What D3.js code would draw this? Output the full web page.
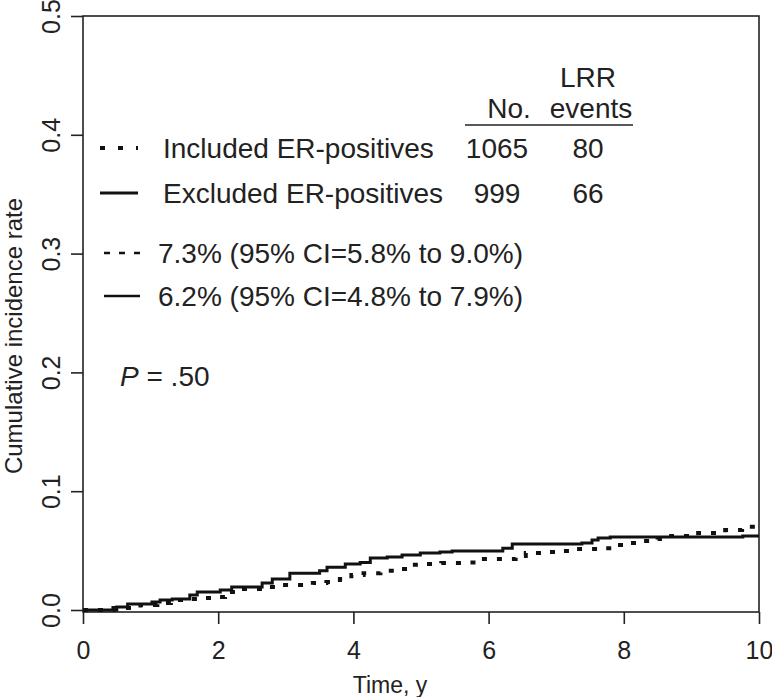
<!doctype html>
<html lang="en">
<head>
    <meta charset="UTF-8">
    <title>Cumulative incidence</title>
    <script src="https://cdn.jsdelivr.net/npm/d3@7"></script>
    <style>
        body { margin: 0; background: #fff; }
        text { font-family: "Liberation Sans", Arial, sans-serif; fill: #222; }
    </style>
</head>
<body>
    <svg width="772" height="697"></svg>
    <script>
        // step times (years) and cumulative incidence for each group
        var includedTimes = [0, 0.45, 0.85, 1.1, 1.3, 1.5, 1.75, 1.95, 2.1, 2.3, 2.7, 2.9, 3.4, 3.6, 3.8, 3.97, 4.15, 4.4, 4.6, 4.85, 5.05, 5.3, 5.7, 5.9, 6.4, 6.55, 6.8, 7.0, 7.25, 7.65, 7.85, 8.05, 8.3, 8.5, 8.7, 9.1, 9.5, 9.75, 9.95, 10];
        var includedRate = [0, 0.0017, 0.0042, 0.0059, 0.0084, 0.0093, 0.0101, 0.0109, 0.0152, 0.0177, 0.0194, 0.021, 0.0227, 0.0236, 0.026, 0.0295, 0.031, 0.033, 0.0345, 0.038, 0.0387, 0.0396, 0.040, 0.043, 0.0455, 0.048, 0.0488, 0.0497, 0.0513, 0.052, 0.0547, 0.0564, 0.058, 0.0598, 0.0623, 0.0648, 0.0673, 0.070, 0.0732, 0.0732];
        var excludedTimes = [0, 0.5, 0.66, 1.02, 1.14, 1.32, 1.58, 1.69, 2.03, 2.2, 2.65, 2.8, 3.06, 3.5, 3.61, 3.88, 4.1, 4.25, 4.5, 4.72, 4.99, 5.28, 5.46, 6.21, 6.35, 7.38, 7.53, 7.62, 7.8, 9.76, 10];
        var excludedRate = [0, 0.0025, 0.005, 0.0067, 0.0084, 0.0093, 0.0126, 0.0152, 0.0168, 0.0194, 0.0227, 0.026, 0.031, 0.033, 0.036, 0.0387, 0.040, 0.0438, 0.0446, 0.0463, 0.048, 0.0488, 0.0497, 0.052, 0.0555, 0.0564, 0.059, 0.0606, 0.0614, 0.0623, 0.0623];

        var xTicks = [0, 2, 4, 6, 8, 10];
        var yTicks = [0.0, 0.1, 0.2, 0.3, 0.4, 0.5];

        var groupNames = ["Included ER-positives", "Excluded ER-positives"];
        var groupN = ["1065", "999"];
        var groupEvents = ["80", "66"];
        var ciLabels = ["7.3% (95% CI=5.8% to 9.0%)", "6.2% (95% CI=4.8% to 7.9%)"];

        var svg = d3.select("svg");
        var x = d3.scaleLinear().domain([0, 10]).range([83, 759]);
        var y = d3.scaleLinear().domain([0, 0.5]).range([610, 16]);
        var fs = 28, tfs = 25;

        // frame
        svg.append("rect")
            .attr("x", x(0)).attr("y", y(0.5))
            .attr("width", x(10) - x(0)).attr("height", y(0) + 2 - y(0.5))
            .attr("fill", "none").attr("stroke", "#222").attr("stroke-width", 1.6);

        // x axis
        var xAxis = svg.append("g").attr("transform", "translate(0," + (y(0) + 2) + ")")
            .call(d3.axisBottom(x).tickValues(xTicks).tickSize(12).tickPadding(17).tickFormat(d3.format("d")));
        xAxis.select(".domain").remove();
        xAxis.selectAll("line").attr("stroke", "#222").attr("stroke-width", 1.6);
        xAxis.selectAll("text").style("font-size", tfs + "px").attr("fill", "#222")
            .style("font-family", "Liberation Sans, Arial, sans-serif");

        // y axis, labels rotated like R's default
        var yAxis = svg.append("g").attr("transform", "translate(" + x(0) + ",0)")
            .call(d3.axisLeft(y).tickValues(yTicks).tickSize(12).tickFormat(d3.format(".1f")));
        yAxis.select(".domain").remove();
        yAxis.selectAll("line").attr("stroke", "#222").attr("stroke-width", 1.6);
        yAxis.selectAll("text")
            .attr("x", null).attr("dy", null)
            .attr("text-anchor", "middle")
            .attr("transform", "translate(-23,0) rotate(-90)")
            .style("font-size", tfs + "px").attr("fill", "#222")
            .style("font-family", "Liberation Sans, Arial, sans-serif");

        // axis titles
        svg.append("text").attr("x", 390).attr("y", 693)
            .attr("text-anchor", "middle").style("font-size", "23px").text("Time, y");
        svg.append("text")
            .attr("transform", "translate(22,336) rotate(-90)")
            .attr("text-anchor", "middle").style("font-size", "24px").text("Cumulative incidence rate");

        // curves
        var line = d3.line().x(function (d) { return x(d[0]); }).y(function (d) { return y(d[1]); })
            .curve(d3.curveStepAfter);
        svg.append("path")
            .datum(d3.zip(excludedTimes, excludedRate))
            .attr("d", line).attr("fill", "none").attr("stroke", "#111").attr("stroke-width", 3);
        svg.append("path")
            .datum(d3.zip(includedTimes, includedRate))
            .attr("d", line).attr("fill", "none").attr("stroke", "#111").attr("stroke-width", 4)
            .attr("stroke-dasharray", "5,10");

        // legend table
        var lg = svg.append("g");
        lg.append("text").attr("x", 588).attr("y", 87).attr("text-anchor", "middle").style("font-size", fs + "px").text("LRR");
        lg.append("text").attr("x", 509).attr("y", 118).attr("text-anchor", "middle").style("font-size", fs + "px").text("No.");
        lg.append("text").attr("x", 591).attr("y", 118).attr("text-anchor", "middle").style("font-size", fs + "px").text("events");
        lg.append("line").attr("x1", 465).attr("x2", 633).attr("y1", 125).attr("y2", 125)
            .attr("stroke", "#222").attr("stroke-width", 1.6);

        var rowY = [148, 193];
        groupNames.forEach(function (name, i) {
            var ry = rowY[i];
            var sample = lg.append("line").attr("x1", 100).attr("x2", 138).attr("y1", ry).attr("y2", ry)
                .attr("stroke", "#111").attr("stroke-width", i === 0 ? 4 : 3);
            if (i === 0) sample.attr("stroke-dasharray", "5,13");
            lg.append("text").attr("x", 163).attr("y", ry + 10).style("font-size", fs + "px").text(name);
            lg.append("text").attr("x", 497).attr("y", ry + 10).attr("text-anchor", "middle").style("font-size", fs + "px").text(groupN[i]);
            lg.append("text").attr("x", 588).attr("y", ry + 10).attr("text-anchor", "middle").style("font-size", fs + "px").text(groupEvents[i]);
        });

        var ciY = [253, 296];
        ciLabels.forEach(function (lab, i) {
            var ry = ciY[i];
            var sample = lg.append("line").attr("x1", 104).attr("x2", 140).attr("y1", ry).attr("y2", ry)
                .attr("stroke", "#111").attr("stroke-width", 2.5);
            if (i === 0) sample.attr("stroke-dasharray", "6,9");
            lg.append("text").attr("x", 158).attr("y", ry + 10).style("font-size", fs + "px").text(lab);
        });

        var p = svg.append("text").attr("x", 120).attr("y", 386).style("font-size", fs + "px");
        p.append("tspan").style("font-style", "italic").text("P");
        p.append("tspan").text(" = .50");
    </script>
</body>
</html>
